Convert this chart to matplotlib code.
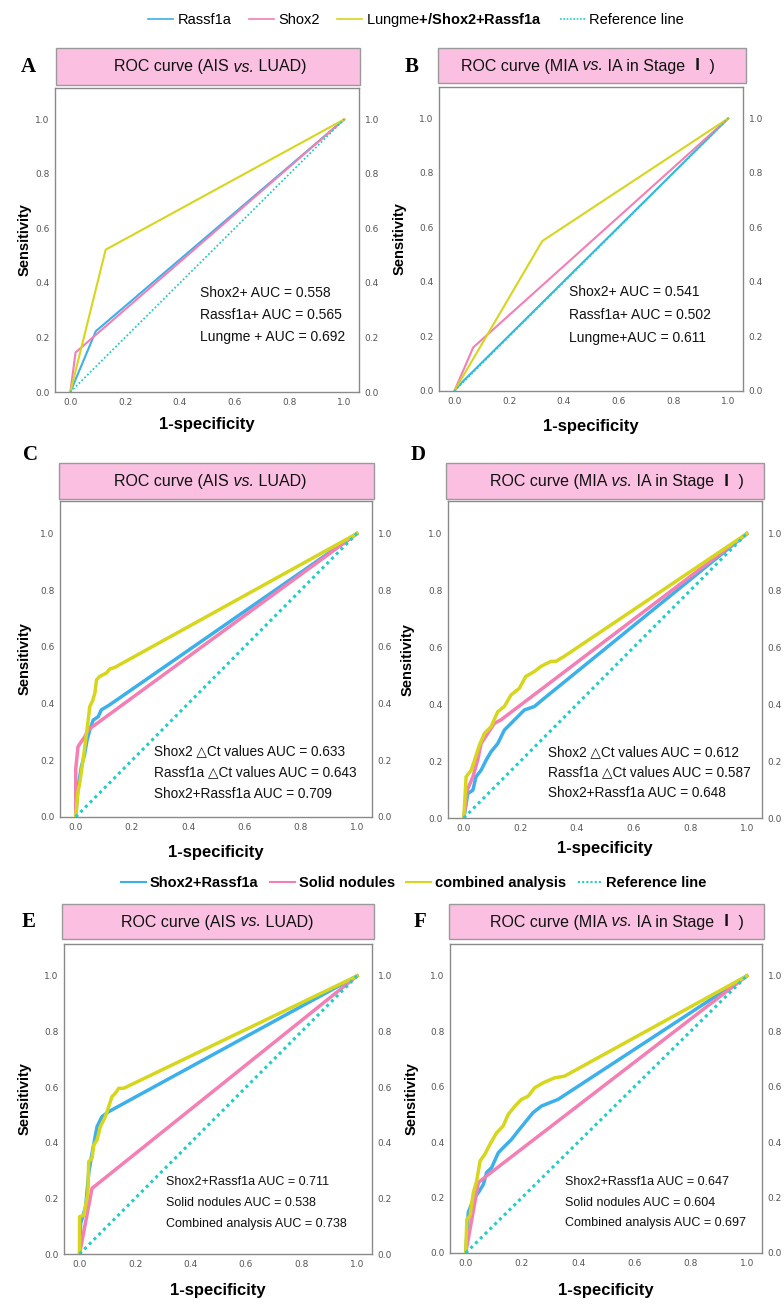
"""ROC curves for Shox2 / Rassf1a methylation and solid nodules, six panels A-F."""

import matplotlib

matplotlib.use("Agg")
import matplotlib.pyplot as plt
from matplotlib.lines import Line2D
from matplotlib.patches import Rectangle

W, H = 784, 1305

SANS = ["Liberation Sans", "DejaVu Sans"]
CJK = ["Noto Sans CJK SC", "DejaVu Sans"]

plt.rcParams["mathtext.fontset"] = "custom"
plt.rcParams["mathtext.rm"] = "Liberation Sans"
plt.rcParams["mathtext.bf"] = "Liberation Sans:bold"
plt.rcParams["mathtext.it"] = "Liberation Sans:italic"

BLUE = "#3cb0ea"
PINK = "#f47fb4"
YELLOW = "#d6d61c"
REF = "#22cdc6"

TICKS = [0.0, 0.2, 0.4, 0.6, 0.8, 1.0]

# ---- A: positivity, AIS vs. LUAD
A_RASSF1A_X = [0.0, 0.093, 1.0]
A_RASSF1A_Y = [0.0, 0.223, 1.0]
A_SHOX2_X = [0.0, 0.019, 1.0]
A_SHOX2_Y = [0.0, 0.145, 1.0]
A_LUNGME_X = [0.0, 0.129, 1.0]
A_LUNGME_Y = [0.0, 0.522, 1.0]
A_AUC = ["Shox2+ AUC = 0.558", "Rassf1a+ AUC = 0.565", "Lungme + AUC = 0.692"]

# ---- B: positivity, MIA vs. IA in stage I
B_RASSF1A_X = [0.0, 0.02, 1.0]
B_RASSF1A_Y = [0.0, 0.024, 1.0]
B_SHOX2_X = [0.0, 0.069, 1.0]
B_SHOX2_Y = [0.0, 0.16, 1.0]
B_LUNGME_X = [0.0, 0.321, 1.0]
B_LUNGME_Y = [0.0, 0.55, 1.0]
B_AUC = ["Shox2+ AUC = 0.541", "Rassf1a+ AUC = 0.502", "Lungme+AUC = 0.611"]

# ---- C: delta Ct values, AIS vs. LUAD
C_RASSF1A_X = [0.0, 0.008, 0.014, 0.02, 0.026, 0.032, 0.04, 0.05, 0.062, 0.08, 0.091, 0.121, 1.0]
C_RASSF1A_Y = [0.0, 0.106, 0.14, 0.177, 0.2, 0.224, 0.27, 0.307, 0.342, 0.354, 0.378, 0.396, 1.0]
C_SHOX2_X = [0.0, 0.0, 0.008, 0.02, 0.032, 0.044, 0.056, 1.0]
C_SHOX2_Y = [0.0, 0.17, 0.248, 0.266, 0.283, 0.307, 0.316, 1.0]
C_COMB_X = [0.0, 0.008, 0.014, 0.02, 0.026, 0.04, 0.05, 0.06, 0.068, 0.074, 0.085, 0.109, 0.121, 0.139, 1.0]
C_COMB_Y = [0.0, 0.09, 0.118, 0.16, 0.2, 0.307, 0.39, 0.41, 0.437, 0.484, 0.496, 0.508, 0.522, 0.528, 1.0]
C_AUC = ["Shox2 \u25b3Ct values AUC = 0.633", "Rassf1a \u25b3Ct values AUC = 0.643",
         "Shox2+Rassf1a AUC = 0.709"]

# ---- D: delta Ct values, MIA vs. IA in stage I
D_RASSF1A_X = [0.0, 0.014, 0.032, 0.043, 0.061, 0.079, 0.096, 0.12, 0.143, 0.167, 0.196, 0.214, 0.249,
               0.284, 1.0]
D_RASSF1A_Y = [0.0, 0.086, 0.098, 0.145, 0.168, 0.204, 0.233, 0.262, 0.309, 0.333, 0.362, 0.38, 0.392,
               0.421, 1.0]
D_SHOX2_X = [0.0, 0.012, 0.032, 0.049, 0.061, 0.085, 0.108, 0.131, 1.0]
D_SHOX2_Y = [0.0, 0.098, 0.145, 0.204, 0.262, 0.298, 0.333, 0.345, 1.0]
D_COMB_X = [0.0, 0.008, 0.026, 0.038, 0.055, 0.073, 0.096, 0.12, 0.143, 0.167, 0.196, 0.219, 0.249,
            0.272, 0.308, 0.325, 0.354, 1.0]
D_COMB_Y = [0.0, 0.145, 0.168, 0.204, 0.256, 0.298, 0.321, 0.374, 0.392, 0.433, 0.456, 0.498, 0.515,
            0.533, 0.551, 0.551, 0.568, 1.0]
D_AUC = ["Shox2 \u25b3Ct values AUC = 0.612", "Rassf1a \u25b3Ct values AUC = 0.587",
         "Shox2+Rassf1a AUC = 0.648"]

# ---- E: combined with solid nodules, AIS vs. LUAD
E_METH_X = [0.0, 0.004, 0.022, 0.033, 0.045, 0.063, 0.081, 0.105, 1.0]
E_METH_Y = [0.0, 0.11, 0.17, 0.29, 0.362, 0.458, 0.494, 0.512, 1.0]
E_SOLID_X = [0.0, 0.045, 1.0]
E_SOLID_Y = [0.0, 0.236, 1.0]
E_COMB_X = [0.0, 0.0, 0.016, 0.022, 0.03, 0.033, 0.045, 0.051, 0.063, 0.075, 0.093, 0.105, 0.117,
            0.129, 0.141, 0.159, 1.0]
E_COMB_Y = [0.0, 0.134, 0.14, 0.176, 0.218, 0.332, 0.344, 0.392, 0.41, 0.458, 0.494, 0.53, 0.566,
            0.578, 0.596, 0.596, 1.0]
E_AUC = ["Shox2+Rassf1a AUC = 0.711", "Solid nodules AUC = 0.538", "Combined analysis AUC = 0.738"]

# ---- F: combined with solid nodules, MIA vs. IA in stage I
F_METH_X = [0.0, 0.009, 0.027, 0.045, 0.063, 0.074, 0.092, 0.116, 0.139, 0.163, 0.186, 0.21, 0.239,
            0.269, 0.298, 0.328, 1.0]
F_METH_Y = [0.0, 0.146, 0.194, 0.218, 0.248, 0.29, 0.308, 0.362, 0.386, 0.41, 0.44, 0.47, 0.506,
            0.53, 0.542, 0.554, 1.0]
F_SOLID_X = [0.0, 0.045, 0.074, 1.0]
F_SOLID_Y = [0.0, 0.254, 0.278, 1.0]
F_COMB_X = [0.0, 0.004, 0.015, 0.027, 0.039, 0.051, 0.068, 0.086, 0.11, 0.133, 0.151, 0.175, 0.198,
            0.222, 0.245, 0.275, 0.316, 0.351, 1.0]
F_COMB_Y = [0.0, 0.122, 0.134, 0.218, 0.26, 0.332, 0.356, 0.392, 0.434, 0.458, 0.5, 0.53, 0.554,
            0.566, 0.596, 0.614, 0.632, 0.638, 1.0]
F_AUC = ["Shox2+Rassf1a AUC = 0.647", "Solid nodules AUC = 0.604", "Combined analysis AUC = 0.697"]

TITLE_AIS = [("ROC curve (AIS", {}), (" vs.", {"style": "italic"}), (" LUAD)", {})]
TITLE_MIA = [("ROC curve (MIA", {}), (" vs.", {"style": "italic"}), (" IA in Stage", {}),
             (" \u2160", {"family": CJK, "weight": "bold"}), (" )", {})]

# geometry in pixels: axes (l, t, r, b), title box (l, t, r, b), title centre x,
# letter (x, y), ylabel x, xlabel y, AUC text (x frac, first y frac, step), sizes
PANELS = [
    dict(letter="A", axes=(55, 88, 359, 392), box=(56, 48, 360, 85), tcx=210, lxy=(28, 67),
         ylab=25, xlab=425, auc_xy=(0.477, 0.326, 0.073), auc_size=10, lw=1.5, rlw=1.3,
         title=TITLE_AIS, auc=A_AUC,
         curves=[(A_RASSF1A_X, A_RASSF1A_Y, BLUE), (A_SHOX2_X, A_SHOX2_Y, PINK),
                 (A_LUNGME_X, A_LUNGME_Y, YELLOW)]),
    dict(letter="B", axes=(439, 87, 743, 391), box=(438, 48, 746, 83), tcx=588, lxy=(412, 67),
         ylab=400, xlab=426, auc_xy=(0.428, 0.326, 0.076), auc_size=10, lw=1.5, rlw=1.3,
         title=TITLE_MIA, auc=B_AUC,
         curves=[(B_RASSF1A_X, B_RASSF1A_Y, BLUE), (B_SHOX2_X, B_SHOX2_Y, PINK),
                 (B_LUNGME_X, B_LUNGME_Y, YELLOW)]),
    dict(letter="C", axes=(60, 501, 372, 817), box=(59, 463, 374, 499), tcx=210, lxy=(30, 455),
         ylab=25, xlab=852, auc_xy=(0.301, 0.209, 0.068), auc_size=9.8, lw=2.5, rlw=2.2,
         title=TITLE_AIS, auc=C_AUC,
         curves=[(C_RASSF1A_X, C_RASSF1A_Y, BLUE), (C_SHOX2_X, C_SHOX2_Y, PINK),
                 (C_COMB_X, C_COMB_Y, YELLOW)]),
    dict(letter="D", axes=(448, 501, 762, 818), box=(446, 463, 764, 499), tcx=617, lxy=(418, 455),
         ylab=408, xlab=848, auc_xy=(0.318, 0.208, 0.065), auc_size=9.8, lw=2.5, rlw=2.2,
         title=TITLE_MIA, auc=D_AUC,
         curves=[(D_RASSF1A_X, D_RASSF1A_Y, BLUE), (D_SHOX2_X, D_SHOX2_Y, PINK),
                 (D_COMB_X, D_COMB_Y, YELLOW)]),
    dict(letter="E", axes=(64, 944, 372, 1254), box=(62, 904, 374, 939), tcx=217, lxy=(29, 922),
         ylab=25, xlab=1290, auc_xy=(0.331, 0.232, 0.068), auc_size=9, lw=2.5, rlw=2.2,
         title=TITLE_AIS, auc=E_AUC,
         curves=[(E_METH_X, E_METH_Y, BLUE), (E_SOLID_X, E_SOLID_Y, PINK),
                 (E_COMB_X, E_COMB_Y, YELLOW)]),
    dict(letter="F", axes=(450, 944, 762, 1253), box=(449, 904, 764, 939), tcx=617, lxy=(420, 922),
         ylab=412, xlab=1290, auc_xy=(0.369, 0.23, 0.067), auc_size=9, lw=2.5, rlw=2.2,
         title=TITLE_MIA, auc=F_AUC,
         curves=[(F_METH_X, F_METH_Y, BLUE), (F_SOLID_X, F_SOLID_Y, PINK),
                 (F_COMB_X, F_COMB_Y, YELLOW)]),
]


def rich_text(fig, cx, cy, parts, size):
    """Centre a run of differently styled pieces on pixel (cx, cy)."""
    renderer = fig.canvas.get_renderer()
    arts = []
    for s, kw in parts:
        kw = dict(kw)
        fam = kw.pop("family", SANS)
        arts.append(fig.text(0, 1 - cy / H, s, fontsize=size, family=fam, va="baseline",
                             ha="left", color="#111111", **kw))
    widths = [t.get_window_extent(renderer).width for t in arts]
    x = cx - sum(widths) / 2
    for t, w in zip(arts, widths):
        t.set_x(x / W)
        x += w


def draw_panel(fig, p):
    l, t, r, b = p["axes"]
    ax = fig.add_axes([l / W, 1 - b / H, (r - l) / W, (b - t) / H])
    for x, y, c in p["curves"]:
        ax.plot(x, y, color=c, lw=p["lw"], solid_joinstyle="round", zorder=3)
    ax.plot([0, 1], [0, 1], color=REF, lw=p["rlw"], ls=(0, (1, 1.2)), zorder=4)

    ax.set_xlim(-0.056, 1.054)
    ax.set_ylim(0, 1.115)
    ax.set_xticks(TICKS)
    ax.set_yticks(TICKS)
    ax.set_xticklabels([f"{v:.1f}" for v in TICKS])
    ax.set_yticklabels([f"{v:.1f}" for v in TICKS])
    ax.tick_params(length=0, labelsize=6.5, labelcolor="#555555", pad=4,
                   labelleft=True, labelright=True)
    for sp in ax.spines.values():
        sp.set_color("#8a8a8a")
        sp.set_linewidth(1.0)

    ax.set_ylabel("Sensitivity", fontsize=10.5, fontweight="bold", family=SANS)
    ax.yaxis.label.set_va("center")
    ax.yaxis.set_label_coords((p["ylab"] - l) / (r - l), 0.5)
    ax.set_xlabel("1-specificity", fontsize=12, fontweight="bold", family=SANS)
    ax.xaxis.label.set_va("center")
    ax.xaxis.set_label_coords(0.5, -(p["xlab"] - b) / (b - t))

    ax0, ay0, step = p["auc_xy"]
    for i, s in enumerate(p["auc"]):
        ax.text(ax0, ay0 - i * step, s, transform=ax.transAxes, fontsize=p["auc_size"],
                family=SANS, va="center", ha="left", color="#111111")

    bl, bt, br, bb = p["box"]
    fig.add_artist(Rectangle((bl / W, 1 - bb / H), (br - bl) / W, (bb - bt) / H,
                             transform=fig.transFigure, facecolor="#fbc0e1",
                             edgecolor="#9a9a9a", lw=1.0))
    rich_text(fig, p["tcx"], (bt + bb) / 2 + 5, p["title"], 11.5)

    fig.text(p["lxy"][0] / W, 1 - p["lxy"][1] / H, p["letter"], fontsize=15,
             fontweight="bold", family=["Liberation Serif", "DejaVu Serif"],
             ha="center", va="center")


def main() -> None:
    fig = plt.figure(figsize=(W / 100, H / 100), dpi=100)

    for p in PANELS:
        draw_panel(fig, p)

    top = [Line2D([], [], color=BLUE, lw=1.2), Line2D([], [], color=PINK, lw=1.2),
           Line2D([], [], color=YELLOW, lw=1.2),
           Line2D([], [], color=REF, lw=1.2, ls=(0, (1, 1)))]
    fig.legend(top, ["Rassf1a", "Shox2", r"Lungme$\mathbf{{+}/Shox2{+}Rassf1a}$", "Reference line"],
               loc="center", bbox_to_anchor=(416 / W, 1 - 20 / H), ncol=4, frameon=False,
               prop=dict(family=SANS, size=10.5), handlelength=1.7, handletextpad=0.3,
               columnspacing=1.2)

    bottom = [Line2D([], [], color=BLUE, lw=1.5), Line2D([], [], color=PINK, lw=1.5),
              Line2D([], [], color=YELLOW, lw=1.5),
              Line2D([], [], color=REF, lw=1.5, ls=(0, (1, 1)))]
    fig.legend(bottom, ["Shox2+Rassf1a", "Solid nodules", "combined analysis", "Reference line"],
               loc="center", bbox_to_anchor=(414 / W, 1 - 883 / H), ncol=4, frameon=False,
               prop=dict(family=SANS, size=10.5, weight="bold"), handlelength=1.7,
               handletextpad=0.25, columnspacing=0.8)

    fig.savefig("out.png", dpi=100, facecolor="white")


if __name__ == "__main__":
    main()
